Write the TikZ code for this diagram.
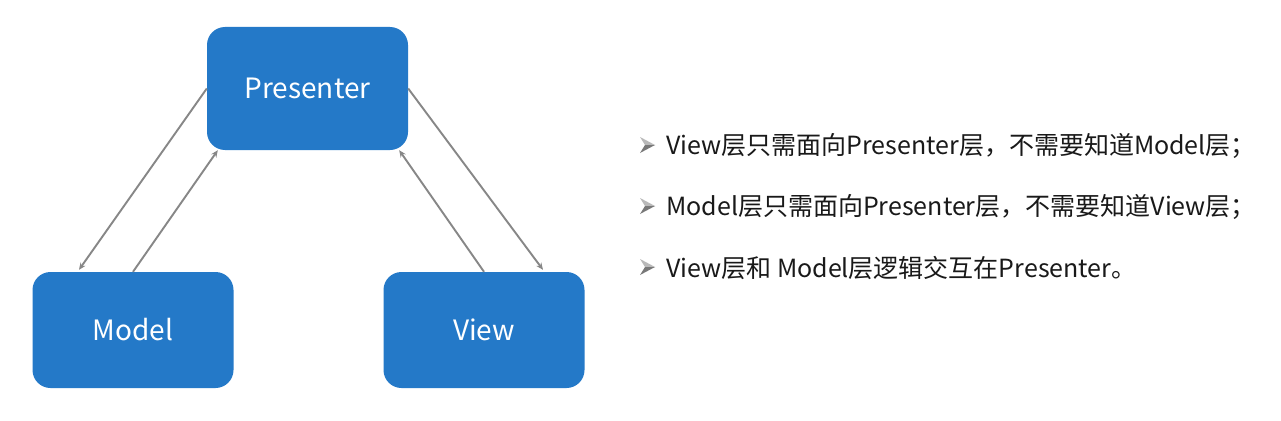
\documentclass[tikz,border=0pt]{standalone}
\usepackage{fontspec}
\setmainfont{Noto Sans CJK SC}
\usetikzlibrary{arrows.meta}
\definecolor{boxblue}{RGB}{36,121,200}
\definecolor{arrgray}{RGB}{135,135,135}
\definecolor{bullight}{RGB}{185,185,185}
\definecolor{buldark}{RGB}{120,120,120}
\tikzset{
  blk/.style={draw=none, fill=boxblue, rounded corners=18pt, minimum width=201pt, minimum height=120pt, text=white, font=\fontsize{28}{31}\selectfont, inner sep=0pt},
  arr/.style={draw=arrgray, line width=1.9pt, -{Stealth[length=7pt,width=6pt]}},
  txt/.style={anchor=west, inner sep=0pt, font=\fontsize{25}{28}\selectfont, text=black!90},
  bulletpic/.pic={
    \fill[bullight] (-7,-8) -- (8,0) -- (-2,0) -- cycle;
    \fill[buldark] (-7,8) -- (8,0) -- (-2,0) -- cycle;
  }
}
\begin{document}
\begin{tikzpicture}[x=1pt,y=-1pt]
\useasboundingbox (0,0) rectangle (1281,420);
\fill[white] (0,0) rectangle (1281,420);
\node[blk, minimum height=123pt] (P) at (307.5,88.5) {Presenter};
\node[blk, minimum height=116pt] (M) at (133,330) {Model};
\node[blk, minimum height=116pt] (V) at (484,330) {View};
\draw[arr] (P.west) -- ([xshift=-54pt,yshift=2pt]M.north);
\draw[arr] (M.north) -- ([xshift=11pt]P.south west);
\draw[arr] (V.north) -- ([xshift=-9pt]P.south east);
\draw[arr] (P.east) -- ([xshift=59pt,yshift=2pt]V.north);
\pic at (647,145) {bulletpic};
\pic at (647,206) {bulletpic};
\pic at (647,267) {bulletpic};
\node[txt] (t1) at (666,146) {View层只需面向Presenter层，不需要知道Model层；};
\node[txt] (t2) at (666,207) {Model层只需面向Presenter层，不需要知道View层；};
\node[txt] (t3) at (666,268) {View层和 Model层逻辑交互在Presenter。};
\end{tikzpicture}
\end{document}
